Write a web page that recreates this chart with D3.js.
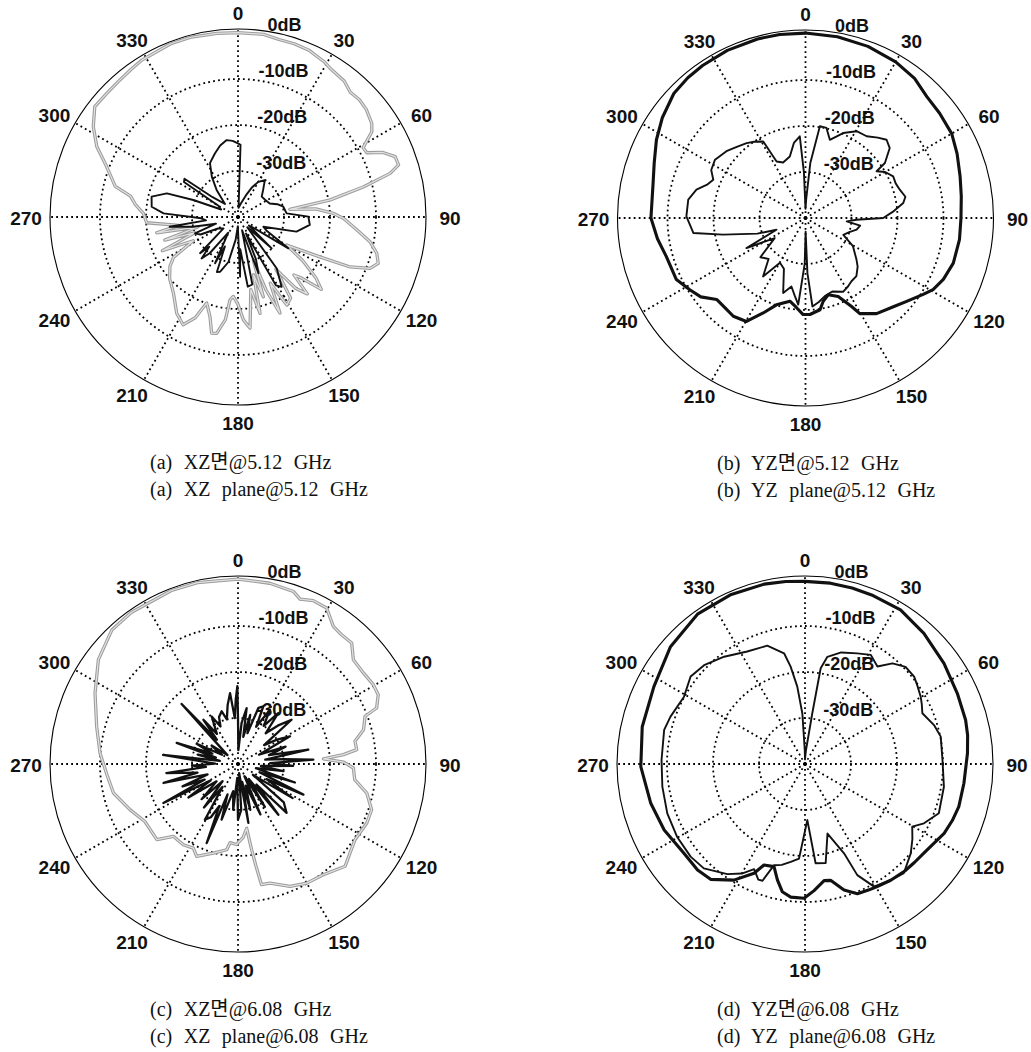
<!DOCTYPE html>
<html><head><meta charset="utf-8">
<script src="https://cdn.jsdelivr.net/npm/d3@7"></script>
<style>
html,body{margin:0;padding:0;background:#fff;}
svg{display:block;}
</style></head>
<body>
<svg id="fig" width="1031" height="1052"></svg>
<script>
// Polar grid: angles in degrees clockwise from the top, levels in dB
const angleTicks = [0, 30, 60, 90, 120, 150, 180, 210, 240, 270, 300, 330];
const ringLevels = [0, -10, -20, -30];
const levelFloor = -40, levelCeil = 0.87;

// Measured patterns, [angle deg, level dB]
// (a) XZ plane @ 5.12 GHz
const xz512Co = [[0,0.1],[8,0.1],[13,-0.4],[18,-0.4],[23,-0.6],[29,-1.4],[32,-2.0],[38,-2.5],[42,-3.5],[46,-3.3],[50,-3.6],[55,-4.5],[57.5,-5.5],[61,-8.9],[63.5,-8.7],[66,-5.5],[69,-3.4],[72,-3.3],[74,-5.6],[76.5,-12],[79.5,-19.6],[81.6,-28.6],[84,-23],[87.8,-19.3],[90.7,-17.1],[96,-14.1],[100.6,-10.8],[104.7,-8.8],[108.3,-7.9],[111.3,-9.2],[114,-13.3],[116,-20.2],[120,-27.8],[124,-23],[128,-18.5],[131,-16],[134,-21],[136,-22.5],[138,-17.5],[141,-20],[144,-26],[147,-19],[151,-18.1],[154,-24],[156.4,-17.2],[159,-23],[160.5,-30],[162.4,-21.8],[165,-27],[167.1,-18.5],[170,-24],[173.8,-15.7],[177,-17.6],[180,-21],[183.4,-22.7],[185.5,-21.9],[187,-17.5],[190.4,-14.3],[192.8,-14.1],[195.7,-17.5],[200,-20.1],[203,-16.2],[207,-13.7],[212.5,-15.2],[220.3,-18.3],[228,-20],[234,-21.7],[238,-23.5],[242,-29],[246,-22],[250,-30],[252.5,-23.3],[256,-31],[259,-22],[262,-27],[266.4,-20.1],[272.2,-19.4],[277,-17.5],[281,-16.2],[284,-12.5],[291,-9.4],[296.5,-5.7],[302,-2.9],[307.6,-0.7],[313.3,-0.8],[318.5,-0.7],[323.7,-0.4],[328.5,0],[338.6,0.4],[345,0.4],[353.4,0.2]];
const xz512X = [[0,-24],[2,-24.3],[3.5,-38],[12,-37],[20,-35],[25,-33],[29.9,-31.2],[36.1,-30.1],[43,-32],[49.3,-33.2],[58,-33],[66.9,-32.5],[72,-31],[77.2,-29.9],[85.7,-29.4],[89.7,-24.7],[96.3,-24.3],[104,-26.9],[111,-34.1],[116,-33],[121.9,-27.1],[125,-36],[128,-37],[133,-30],[138,-37],[143,-26],[148,-22.1],[151,-23],[154,-36],[157,-30],[160,-27],[163,-37],[168,-25],[172,-24.7],[176,-33],[178,-27],[181,-38],[186,-35],[192,-30],[198,-27.5],[201,-27.2],[204,-33],[206.4,-28.8],[212,-36],[218,-30],[221.3,-28],[224,-31],[226.3,-28.6],[232,-36],[240,-35],[245,-31],[249.2,-30],[253,-35],[257.8,-30],[261.9,-25],[264,-33],[268,-32],[272.8,-23.8],[276.8,-21.1],[283.3,-20.7],[288.4,-23.7],[290.8,-29.6],[294,-36],[300,-35],[303,-26],[305.5,-25.7],[308,-33],[315,-36],[321.7,-32.5],[326.9,-29.6],[332.5,-26.8],[340,-25.3],[346,-24],[351.6,-23.1],[356,-23.4]];

// (b) YZ plane @ 5.12 GHz
const yz512Co = [[0,0.2],[10,0],[20,-0.3],[30,-0.8],[38,-1.5],[45,-2.7],[52,-3],[60,-3.3],[67,-4.2],[75,-5.2],[82,-5.8],[90,-6.2],[98,-6.2],[107,-6.4],[114,-7.2],[119.3,-8.2],[123,-9.5],[129.5,-11.5],[135,-12.8],[143.4,-14.1],[150.4,-16.1],[152.5,-18.3],[157.4,-21.5],[163.5,-22.6],[168,-21.5],[171,-19.8],[177.4,-19],[181.4,-19],[186,-20.5],[190.6,-21.6],[198.5,-20.1],[204,-17.4],[209.7,-14.1],[216.3,-13.5],[222,-13.8],[227.5,-13.8],[233,-11.5],[238.2,-10.4],[244.5,-8.9],[254.6,-8.6],[262,-7.5],[270,-6.4],[283,-6],[290,-5],[297.7,-3.4],[305,-2],[313.4,-0.6],[320,-0.2],[326,0],[335,0.2],[345,0.3],[352,0.3]];
const yz512X = [[0,-38],[2,-36],[5,-28],[8.9,-19.8],[13.1,-19.9],[17.3,-22.2],[23.9,-19.8],[30.5,-18.1],[36.8,-17.8],[42,-16.5],[46,-15.5],[50.3,-16.2],[55.3,-19],[56.7,-21.5],[60,-20],[64.6,-18.9],[69,-19],[73.3,-18.6],[78,-17.8],[81.3,-18.5],[86,-21],[90,-23.1],[91.9,-28.9],[94.6,-31],[98,-28],[102.9,-28.6],[108,-30],[113.9,-31],[120.7,-28],[129.2,-25.7],[133,-24.5],[138.8,-23.2],[144,-23],[148,-22.5],[153,-22],[160,-23],[166.1,-22.5],[171,-21.5],[175.5,-20.7],[178,-28],[179.5,-37],[181,-30],[184.8,-21.1],[188,-23],[191.6,-24.8],[196.6,-23],[203,-28],[209.7,-28.8],[216,-24.3],[222,-28],[229,-27],[236.9,-32],[243,-25.6],[248,-33.2],[252,-29],[258.6,-21.7],[262.4,-15.4],[270.8,-14.1],[278.9,-14.2],[284.6,-15.5],[289,-17.5],[292.5,-18.3],[297,-17],[302.8,-16.6],[310.2,-17.5],[316,-18.5],[321.8,-19.3],[326,-20],[331.1,-21],[332.9,-26.2],[338,-27],[345.7,-26.2],[351.2,-23.5],[356,-22.2],[358,-30]];

// (c) XZ plane @ 6.08 GHz
const xz608Co = [[0,0.2],[10,-0.1],[17.8,-0.6],[20.6,-1.7],[24.7,-0.9],[29.6,-1],[34.7,-3.6],[38.7,-4],[43.2,-3.9],[47.9,-6.2],[54,-6.3],[59.6,-5.9],[63.7,-6],[68,-7.5],[69.4,-10.5],[74.7,-11.7],[79,-14.1],[83.1,-14],[84.9,-17],[86.6,-21.4],[89,-17],[92,-14.9],[97.6,-14.4],[102.7,-11.3],[108.9,-9.3],[114.6,-9.2],[122.9,-9.7],[128.5,-8.9],[133.7,-7.8],[142.4,-9.6],[150,-10.1],[157,-11.1],[165,-13.2],[169,-13.3],[170,-17.4],[171,-21.2],[172.3,-25.9],[176,-24],[181,-22.5],[185.8,-22.8],[187.5,-21.2],[195.5,-19.9],[204.1,-18],[208,-19.3],[214.1,-18.8],[221.8,-18.9],[227,-15.9],[238.3,-16.2],[247.1,-14.5],[256.9,-12.2],[265.4,-11.4],[274.6,-9.9],[284.9,-8.2],[296.4,-5.3],[306.8,-2.1],[316.7,0],[324.8,0.3],[339,0.4],[347.4,0.4]];
const xz608X = [[0,-30],[1.5,-37],[5,-31],[8.8,-27.7],[11,-34],[14,-29],[17,-33],[20,-27],[23.7,-26.3],[26,-31],[30.5,-26.3],[34,-30],[38.3,-25.9],[42,-31],[46,-28],[50.4,-24.9],[54,-33],[58,-30],[62,-27.2],[66,-35],[70,-29],[74,-33],[78.5,-24.4],[81,-34],[84,-30],[86.7,-23.6],[88.5,-33],[92,-28],[95,-35],[99,-30],[103,-36],[108,-27],[111,-35],[115.1,-24.3],[118,-33],[122,-26],[126,-36],[130,-27],[135.2,-25],[138,-34],[141.5,-25.9],[144,-36],[148,-29],[152,-37],[156,-28],[160,-35],[165,-29.7],[167,-36],[170,-27],[173,-38],[176,-30],[180,-27.9],[183,-37],[186,-30],[190,-34],[196.4,-27.4],[199,-33],[201.6,-21.5],[204,-30],[207,-27],[210.7,-25.9],[214,-34],[218,-28],[222,-35],[226,-29],[231,-34],[236,-27],[239,-33],[242.4,-21.7],[245,-32],[248,-27],[251,-33],[255.7,-23.3],[258,-31],[262.8,-24.3],[265,-33],[268,-30],[271,-35],[277,-23.6],[280,-36],[283,-31],[286,-35],[289,-25.9],[292,-34],[296,-30],[300,-36],[305,-33],[310,-37],[316.8,-22.1],[319,-33],[322,-27.8],[325,-32],[331,-28.2],[335,-31],[338,-29],[342.8,-28],[346,-30],[350,-27],[353.6,-24.5],[356,-30],[358,-26],[359.5,-23.1]];

// (d) YZ plane @ 6.08 GHz
const yz608Co = [[0,-0.3],[8,-0.3],[15,-0.4],[22,-0.5],[31.8,-0.6],[42.3,-1.6],[54.1,-2.7],[65.1,-3.5],[74.7,-3.8],[80,-4.1],[86.2,-4.6],[96.9,-5.2],[105.5,-5.3],[111,-5.7],[116.5,-6.2],[121,-7],[126.9,-7.7],[132,-8],[137,-8.2],[143.6,-8.6],[149.5,-9.1],[153,-9.3],[158,-9.6],[162.8,-11.3],[167.6,-14.1],[170.7,-14.3],[175.9,-12.4],[180.4,-10.8],[186.1,-10.9],[190.1,-11.8],[193.4,-14.1],[196.8,-16.7],[202.1,-16.3],[205,-13.8],[211.5,-10.4],[219.3,-7.6],[225.4,-7.2],[233.6,-7.3],[244.9,-6.2],[255.7,-5.4],[269.1,-4.3],[282.9,-3.7],[297.1,-3.1],[311.1,-1.2],[324.5,0.1],[336.5,0.2],[347.2,0.1],[354,-0.1]];
const yz608X = [[0,-39],[4,-37],[8.2,-28.8],[9.3,-18.9],[11.8,-16.2],[18,-14.5],[25.3,-13.4],[31.1,-12.3],[36.6,-13.6],[41,-11],[46,-9.6],[51.3,-9.6],[55,-10.2],[59.8,-10.9],[63,-11.5],[66.6,-12.2],[73.2,-10.7],[78.6,-9.9],[88.3,-10.1],[99.3,-9.4],[110.2,-9],[116.5,-11.1],[120.3,-13],[125,-11.5],[130.2,-9.9],[137.8,-8],[143.6,-8.6],[150.6,-9.4],[154.8,-13.3],[156.4,-18.8],[162.1,-24.1],[168.2,-18],[173.9,-18.3],[177.6,-27.8],[183.6,-19.4],[188.3,-18.5],[193,-17.5],[197,-17],[200,-13],[202,-12.9],[205.8,-14.6],[210,-12.5],[215.2,-10.7],[224.1,-8.4],[231,-8],[240.4,-8],[250.3,-8.2],[261,-8.6],[271.6,-8.8],[283.6,-8.5],[289.4,-9],[299.1,-9.9],[307.4,-8.7],[314.4,-9.3],[323,-10.8],[332.8,-12.5],[342.3,-13],[349.3,-15.5],[351.6,-18.6],[354.3,-23.1],[357,-29],[359,-37]];

// Panel captions (Korean / English)
const captionsKo = ["(a) XZ면@5.12 GHz", "(b) YZ면@5.12 GHz", "(c) XZ면@6.08 GHz", "(d) YZ면@6.08 GHz"];
const captionsEn = ["(a) XZ plane@5.12 GHz", "(b) YZ plane@5.12 GHz", "(c) XZ plane@6.08 GHz", "(d) YZ plane@6.08 GHz"];

const panels = [
  { cx: 238, cy: 217, capX: 150, series: [[xz512Co, "grey"], [xz512X, "thin"]] },
  { cx: 805.5, cy: 218, capX: 717, series: [[yz512Co, "thick"], [yz512X, "thin"]] },
  { cx: 238, cy: 764, capX: 150, series: [[xz608Co, "grey"], [xz608X, "spiky"]] },
  { cx: 805, cy: 764, capX: 717, series: [[yz608Co, "thick"], [yz608X, "thin"]] }
];

const strokeStyles = {
  grey:  [{ c: "#9c9c9c", w: 3.3 }, { c: "#e2e2e2", w: 1.2 }],
  thin:  [{ c: "#111", w: 1.9 }],
  thick: [{ c: "#111", w: 3.1 }],
  spiky: [{ c: "#111", w: 2.3 }]
};

const R = 188, labelRx = 212, labelRy = 205;
const toRad = d => d * Math.PI / 180;
const rScale = d3.scaleLinear().domain([levelFloor, levelCeil]).range([0, R]).clamp(true);
const radial = d3.lineRadial()
  .angle(d => toRad(d[0]))
  .radius(d => rScale(d[1]))
  .curve(d3.curveLinearClosed);

const svg = d3.select("#fig");
svg.append("rect").attr("width", 1031).attr("height", 1052).attr("fill", "#fff");

const tickFont = "'Liberation Sans', Arial, sans-serif";
const capFont = "'Liberation Serif', 'Times New Roman', 'Noto Sans CJK KR', serif";

panels.forEach((p, i) => {
  const g = svg.append("g").attr("transform", `translate(${p.cx},${p.cy})`);

  // dotted spokes every 30 degrees
  g.selectAll("line.spoke").data(angleTicks).join("line")
    .attr("class", "spoke")
    .attr("x1", 0).attr("y1", 0)
    .attr("x2", a => R * Math.sin(toRad(a)))
    .attr("y2", a => -R * Math.cos(toRad(a)))
    .attr("stroke", "#000").attr("stroke-width", 1.8)
    .attr("stroke-dasharray", "1.8 3.2");

  // dotted level rings
  g.selectAll("circle.ring").data(ringLevels.filter(v => v < 0)).join("circle")
    .attr("class", "ring")
    .attr("r", v => rScale(v))
    .attr("fill", "none").attr("stroke", "#000").attr("stroke-width", 1.8)
    .attr("stroke-dasharray", "1.8 3.2");

  // outer boundary
  g.append("circle").attr("r", R).attr("fill", "none")
    .attr("stroke", "#000").attr("stroke-width", 1.1);

  // radiation patterns
  p.series.forEach(([data, style]) => {
    strokeStyles[style].forEach(st => {
      g.append("path").attr("d", radial(data))
        .attr("fill", "none").attr("stroke", st.c).attr("stroke-width", st.w)
        .attr("stroke-linejoin", "round");
    });
  });

  // angle labels
  g.selectAll("text.ang").data(angleTicks).join("text")
    .attr("class", "ang")
    .attr("x", a => labelRx * Math.sin(toRad(a)))
    .attr("y", a => -labelRy * Math.cos(toRad(a)) + 1)
    .attr("text-anchor", "middle").attr("dominant-baseline", "central")
    .attr("font-family", tickFont).attr("font-weight", "bold").attr("font-size", 19)
    .attr("fill", "#111")
    .text(a => a);

  // level labels
  g.selectAll("text.lvl").data(ringLevels).join("text")
    .attr("class", "lvl")
    .attr("x", v => 42 + rScale(v) * 0.025)
    .attr("y", v => -rScale(v) - 2)
    .attr("text-anchor", "middle")
    .attr("font-family", tickFont).attr("font-weight", "bold").attr("font-size", 18)
    .attr("fill", "#111")
    .text(v => `${v}dB`);

  // captions
  const capY = p.cy + 252;
  [captionsKo[i], captionsEn[i]].forEach((t, k) => {
    svg.append("text")
      .attr("x", p.capX).attr("y", capY + k * 27)
      .attr("font-family", capFont).attr("font-size", 20)
      .attr("word-spacing", 6.5).attr("fill", "#111")
      .text(t);
  });
});
</script>
</body></html>
